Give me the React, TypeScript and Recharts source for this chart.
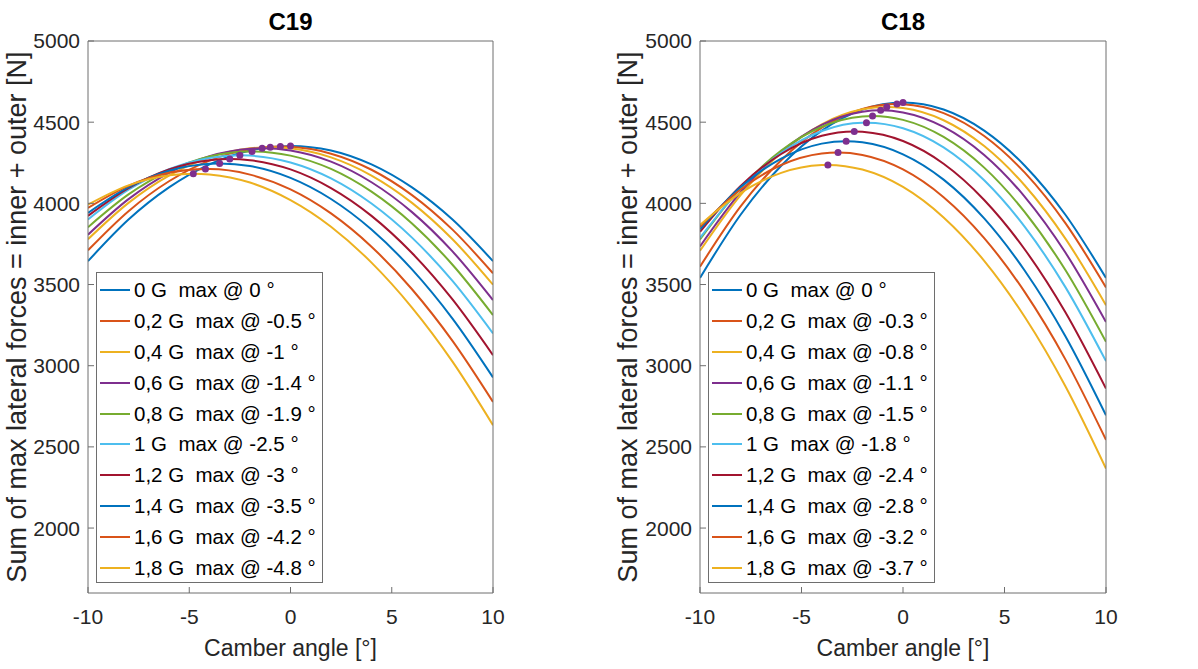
import React from 'react'
import { ComposedChart, Line, Scatter, XAxis, YAxis } from 'recharts'

const FONT = '"Liberation Sans", Arial, Helvetica, sans-serif'
const TEXT = '#262626'
const BOX = '#6e6e6e'
const PURPLE = '#7E2F8E'
// MATLAB default line colour order
const COLORS = ['#0072BD', '#D95319', '#EDB120', '#7E2F8E', '#77AC30', '#4DBEEE', '#A2142F', '#0072BD', '#D95319', '#EDB120']

const CAMBER = [-10, -8, -6, -4, -2, 0, 2, 4, 6, 8, 10]
const X_TICKS = [-10, -5, 0, 5, 10]
const Y_TICKS = [2000, 2500, 3000, 3500, 4000, 4500, 5000]
const G_LEVELS = ['0', '0,2', '0,4', '0,6', '0,8', '1', '1,2', '1,4', '1,6', '1,8']

// C19 - sum of max lateral forces at each camber sample
const c19_g00 = [3644, 3900, 4098, 4240, 4326, 4354, 4326, 4240, 4098, 3900, 3644]
const c19_g02 = [3711, 3952, 4136, 4263, 4334, 4348, 4306, 4207, 4051, 3838, 3569]
const c19_g04 = [3779, 4003, 4171, 4283, 4339, 4339, 4283, 4171, 4003, 3779, 3499]
const c19_g06 = [3807, 4026, 4188, 4291, 4337, 4326, 4257, 4130, 3946, 3704, 3404]
const c19_g08 = [3853, 4055, 4200, 4289, 4320, 4294, 4212, 4072, 3876, 3622, 3312]
const c19_g10 = [3901, 4084, 4210, 4280, 4294, 4252, 4154, 3999, 3789, 3522, 3199]
const c19_g12 = [3923, 4094, 4209, 4266, 4266, 4209, 4094, 3923, 3694, 3408, 3065]
const c19_g14 = [3941, 4100, 4201, 4244, 4230, 4157, 4027, 3839, 3593, 3290, 2928]
const c19_g16 = [3972, 4108, 4188, 4211, 4177, 4086, 3938, 3733, 3471, 3153, 2777]
const c19_g18 = [3992, 4111, 4173, 4178, 4128, 4020, 3856, 3635, 3358, 3025, 2634]
const C19_PEAK_X = [0, -0.5, -1, -1.4, -1.9, -2.5, -3, -3.5, -4.2, -4.8]
const C19_PEAK_Y = [4354, 4350, 4346, 4340, 4320, 4296, 4273, 4246, 4211, 4183]

// C18
const c18_g00 = [3541, 3930, 4232, 4448, 4578, 4621, 4578, 4448, 4232, 3930, 3541]
const c18_g02 = [3610, 3981, 4266, 4466, 4581, 4611, 4556, 4415, 4189, 3878, 3482]
const c18_g04 = [3708, 4051, 4311, 4487, 4579, 4587, 4512, 4353, 4110, 3783, 3373]
const c18_g06 = [3735, 4069, 4319, 4484, 4564, 4560, 4471, 4298, 4040, 3697, 3269]
const c18_g08 = [3778, 4094, 4325, 4472, 4535, 4514, 4409, 4220, 3946, 3589, 3147]
const c18_g10 = [3788, 4091, 4311, 4446, 4497, 4463, 4345, 4142, 3855, 3484, 3028]
const c18_g12 = [3825, 4107, 4304, 4416, 4441, 4384, 4244, 4021, 3716, 3329, 2859]
const c18_g14 = [3840, 4100, 4276, 4368, 4376, 4302, 4146, 3907, 3585, 3182, 2695]
const c18_g16 = [3856, 4085, 4236, 4307, 4298, 4209, 4038, 3786, 3453, 3039, 2543]
const c18_g18 = [3866, 4064, 4188, 4236, 4208, 4101, 3913, 3646, 3300, 2874, 2367]
const C18_PEAK_X = [0, -0.3, -0.8, -1.1, -1.5, -1.8, -2.4, -2.8, -3.2, -3.7]
const C18_PEAK_Y = [4621, 4612, 4594, 4573, 4538, 4497, 4443, 4383, 4313, 4237]

const HEIGHT = 669
const PLOT_TOP = 41
const PLOT_BOTTOM = 593
const Y_AXIS_W = 60

interface PanelProps {
  title: string
  curves: number[][]
  peakX: number[]
  peakY: number[]
  left: number
  width: number
  marginLeft: number
  marginRight: number
  yLabelX: number
}

function Panel({ title, curves, peakX, peakY, left, width, marginLeft, marginRight, yLabelX }: PanelProps) {
  // each curve: camber samples plus its own maximum point
  const series = curves.map((vals, i) => {
    const pts = CAMBER.map((x, j) => ({ x, y: vals[j] })).filter(p => p.x !== peakX[i])
    pts.push({ x: peakX[i], y: peakY[i] })
    pts.sort((a, b) => a.x - b.x)
    return pts
  })
  const peaks = peakX.map((x, i) => ({ x, y: peakY[i] }))

  const plotLeft = marginLeft + Y_AXIS_W
  const plotRight = width - marginRight
  const cx = (plotLeft + plotRight) / 2
  const cy = (PLOT_TOP + PLOT_BOTTOM) / 2

  return (
    <div style={{ position: 'absolute', left, top: 0, width, height: HEIGHT, fontFamily: FONT }}>
      <ComposedChart
        width={width}
        height={HEIGHT}
        margin={{ top: PLOT_TOP - 1, right: marginRight - 1, bottom: HEIGHT - PLOT_BOTTOM - 40, left: marginLeft }}
      >
        <XAxis
          dataKey="x"
          type="number"
          domain={[-10, 10]}
          ticks={X_TICKS}
          allowDataOverflow
          height={40}
          tickSize={-6}
          tickMargin={22}
          axisLine={{ stroke: BOX }}
          tickLine={{ stroke: BOX }}
          tick={{ fill: TEXT, fontSize: 21, fontFamily: FONT }}
        />
        {/* top and right axes close the box, ticks pointing inward */}
        <XAxis
          xAxisId="top"
          dataKey="x"
          orientation="top"
          type="number"
          domain={[-10, 10]}
          ticks={X_TICKS}
          allowDataOverflow
          height={1}
          tickSize={-6}
          tick={false}
          axisLine={{ stroke: BOX }}
          tickLine={{ stroke: BOX }}
        />
        <YAxis
          type="number"
          domain={[1600, 5000]}
          ticks={Y_TICKS}
          allowDataOverflow
          width={Y_AXIS_W}
          tickSize={-6}
          tickMargin={14}
          axisLine={{ stroke: BOX }}
          tickLine={{ stroke: BOX }}
          tick={{ fill: TEXT, fontSize: 21, fontFamily: FONT }}
        />
        <YAxis
          yAxisId="right"
          orientation="right"
          type="number"
          domain={[1600, 5000]}
          ticks={Y_TICKS}
          allowDataOverflow
          width={1}
          tickSize={-6}
          tick={false}
          axisLine={{ stroke: BOX }}
          tickLine={{ stroke: BOX }}
        />
        {series.map((data, i) => (
          <Line
            key={i}
            data={data}
            dataKey="y"
            type="monotone"
            stroke={COLORS[i]}
            strokeWidth={2}
            dot={false}
            isAnimationActive={false}
          />
        ))}
        <Scatter
          data={peaks}
          dataKey="y"
          xAxisId="top"
          yAxisId="right"
          fill={PURPLE}
          isAnimationActive={false}
          shape={(p: any) => <circle cx={p.cx} cy={p.cy} r={3.5} fill={PURPLE} />}
        />
      </ComposedChart>

      <div style={{ position: 'absolute', left: cx - 60, top: 8, width: 120, textAlign: 'center', fontSize: 24, fontWeight: 'bold', color: '#000', lineHeight: '28px' }}>
        {title}
      </div>
      <div style={{ position: 'absolute', left: cx - 150, top: 634, width: 300, textAlign: 'center', fontSize: 23, color: TEXT, lineHeight: '28px' }}>
        Camber angle [°]
      </div>
      <div
        style={{
          position: 'absolute', left: yLabelX - 350, top: cy - 16, width: 700, textAlign: 'center',
          fontSize: 27, color: TEXT, lineHeight: '32px', transform: 'rotate(-90deg)', whiteSpace: 'nowrap',
        }}
      >
        Sum of max lateral forces = inner + outer [N]
      </div>

      <div
        style={{
          position: 'absolute', left: plotLeft + 8, top: 272, width: 227, height: 311, boxSizing: 'border-box',
          background: '#fff', border: `1px solid ${BOX}`, paddingTop: 2,
        }}
      >
        {G_LEVELS.map((g, i) => (
          <div key={g} style={{ height: 30.8, display: 'flex', alignItems: 'center' }}>
            <span style={{ display: 'inline-block', width: 30, height: 2, background: COLORS[i], marginLeft: 3, marginRight: 4 }} />
            <span style={{ fontSize: 20.5, color: '#000', whiteSpace: 'pre' }}>{`${g} G  max @ ${peakX[i]} °`}</span>
          </div>
        ))}
      </div>
    </div>
  )
}

export default function App() {
  return (
    <div style={{ position: 'absolute', left: 0, top: 0, width: 1198, height: HEIGHT, background: '#fff', overflow: 'hidden' }}>
      <Panel
        title="C19"
        curves={[c19_g00, c19_g02, c19_g04, c19_g06, c19_g08, c19_g10, c19_g12, c19_g14, c19_g16, c19_g18]}
        peakX={C19_PEAK_X}
        peakY={C19_PEAK_Y}
        left={0}
        width={600}
        marginLeft={28}
        marginRight={107}
        yLabelX={17}
      />
      <Panel
        title="C18"
        curves={[c18_g00, c18_g02, c18_g04, c18_g06, c18_g08, c18_g10, c18_g12, c18_g14, c18_g16, c18_g18]}
        peakX={C18_PEAK_X}
        peakY={C18_PEAK_Y}
        left={600}
        width={598}
        marginLeft={40}
        marginRight={92}
        yLabelX={28}
      />
    </div>
  )
}
